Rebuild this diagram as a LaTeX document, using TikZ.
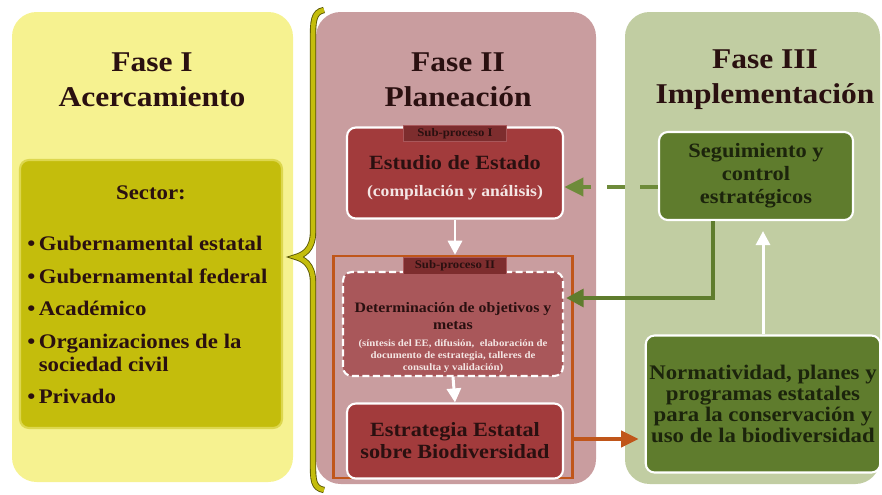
\documentclass[tikz,border=0pt]{standalone}
\usepackage{fontspec}
\setmainfont{Liberation Serif}[FakeStretch=1.1]
\usetikzlibrary{arrows.meta,calc}

\definecolor{amarillo}{HTML}{F6F290}
\definecolor{mostaza}{HTML}{C4BD0C}
\definecolor{rosa}{HTML}{C99D9F}
\definecolor{rojo}{HTML}{A23B3C}
\definecolor{rojomed}{HTML}{A9575A}
\definecolor{guinda}{HTML}{7D2D2E}
\definecolor{salvia}{HTML}{C1CDA2}
\definecolor{verde}{HTML}{5F7C2D}
\definecolor{verdeclaro}{HTML}{6E8B3A}
\definecolor{naranja}{HTML}{C0561A}
\definecolor{oscuro}{HTML}{2A1010}
\definecolor{oscuroverde}{HTML}{1C240C}
\definecolor{crema}{HTML}{F4E6E4}

\begin{document}
\begin{tikzpicture}[x=0.02cm,y=-0.02cm,
  titulo/.style={font=\fontsize{16.3}{20}\selectfont\bfseries,text=oscuro,align=center},
  caja/.style={rounded corners=5pt,draw=white,line width=1.2pt,align=center,inner sep=2pt},
  pestana/.style={draw=rojomed,line width=.8pt,fill=guinda,text=oscuro,
    font=\fontsize{6.6}{6.6}\selectfont\bfseries,minimum width=2.05cm,minimum height=.33cm,inner sep=1pt},
  flechab/.style={draw=white,line width=1.7pt,-{Triangle[length=8pt,width=8pt]}},
]
\useasboundingbox (0,0) rectangle (882,494);

% paneles de las fases
\fill[amarillo,rounded corners=14pt] (12,12) rectangle (293,482);
\fill[rosa,rounded corners=14pt] (316,12) rectangle (596,484);
\fill[salvia,rounded corners=14pt] (625,12) rectangle (880,484);

% llave
\draw[draw=mostaza!45!black,line width=.5pt,double=mostaza,double distance=2.6pt]
  (324,10) .. controls (313,12) and (313,22) .. (313,40) -- (313,232)
  .. controls (313,250) and (303,255) .. (296,257) .. controls (303,259) and (313,264) .. (313,282)
  -- (313,462) .. controls (313,480) and (313,488) .. (324,490);

% Fase I
\node[titulo] (faseuno) at (152,80) {Fase I\\Acercamiento};
\node[caja,fill=mostaza,draw=amarillo!50!mostaza,minimum width=5.24cm,minimum height=5.36cm] (sector) at (151,294) {};
\node[font=\fontsize{11.8}{13}\selectfont\bfseries,text=oscuro] (sectortit) at (151,193) {Sector:};
\node[anchor=west,align=left,inner sep=0pt,font=\fontsize{11.8}{13}\selectfont\bfseries,text=oscuro] (lista) at (27,320)
  {\textbullet\,Gubernamental estatal\\[5.5pt]
   \textbullet\,Gubernamental federal\\[5.5pt]
   \textbullet\,Académico\\[5.5pt]
   \textbullet\,Organizaciones de la\\
   \phantom{\textbullet\,}sociedad civil\\[5.5pt]
   \textbullet\,Privado};

% Fase II
\node[titulo] (fasedos) at (458,80) {Fase II\\Planeación};
\node[caja,fill=rojo,minimum width=4.32cm,minimum height=1.82cm] (estudio) at (455,173) {};
\node[font=\fontsize{11.5}{13}\selectfont\bfseries,text=oscuro] (estudiotit) at (455,163) {Estudio de Estado};
\node[font=\fontsize{9.1}{10}\selectfont\bfseries,text=crema] (estudiosub) at (455,193) {(compilación y análisis)};
\node[pestana] (tabuno) at ($(estudio.north)+(0,7)$) {Sub-proceso I};

\node[draw=naranja,line width=1.4pt,minimum width=4.78cm,minimum height=4.44cm,inner sep=0pt] (subdos) at (453,367) {};
\node[caja,dash pattern=on 4pt off 2pt,fill=rojomed,minimum width=4.4cm,minimum height=2.08cm] (determ) at (453,324) {};
\node[align=center,font=\fontsize{8.2}{9.5}\selectfont\bfseries,text=oscuro] (determtit) at (453,316)
  {Determinación de objetivos y\\metas};
\node[align=center,font=\fontsize{5.6}{6.8}\selectfont\bfseries,text=crema] (determsub) at (453,356)
  {(síntesis del EE, difusión,\ \ elaboración de\\documento de estrategia, talleres de\\consulta y validación)};
\node[pestana] (tabdos) at (455,266) {Sub-proceso II};
\node[caja,fill=rojo,minimum width=4.32cm,minimum height=1.5cm,
  font=\fontsize{11.5}{12.5}\selectfont\bfseries,text=oscuro] (estrategia) at (455,441)
  {Estrategia Estatal\\sobre Biodiversidad};

\draw[flechab] (estudio.south) -- (estudio.south |- subdos.north);
\draw[flechab] (determ.south) -- (estrategia.north);

% Fase III
\node[titulo] (fasetres) at (765,80) {Fase III\\Implementación};
\node[caja,fill=verde,minimum width=3.88cm,minimum height=1.76cm,
  font=\fontsize{11.6}{13}\selectfont\bfseries,text=oscuroverde] (seguim) at (756,176)
  {Seguimiento y\\control\\estratégicos};
\node[caja,fill=verde,minimum width=4.6cm,minimum height=2.74cm,
  font=\fontsize{11.8}{12}\selectfont\bfseries,text=oscuroverde] (normat) at (763,404)
  {Normatividad, planes y\\programas estatales\\para la conservación y\\uso de la biodiversidad};

% conectores
\draw[verdeclaro,line width=2.8pt,dash pattern=on 10pt off 9pt,-{Triangle[length=11pt,width=10pt]}]
  (seguim.west |- 0,187) -- (estudio.east |- 0,187);
\draw[verde,line width=2.6pt,-{Triangle[length=10pt,width=10pt]}]
  ($(seguim.south west)+(55,0)$) |- ($(determ.east)+(2,-26)$);
\draw[flechab] (normat.north) -- ($(seguim.south -| normat.north)+(0,10)$);
\draw[naranja,line width=2.4pt,-{Triangle[length=10pt,width=9pt]}]
  (subdos.east |- 0,439) -- ($(normat.west |- 0,439)+(-6,0)$);
\end{tikzpicture}
\end{document}
